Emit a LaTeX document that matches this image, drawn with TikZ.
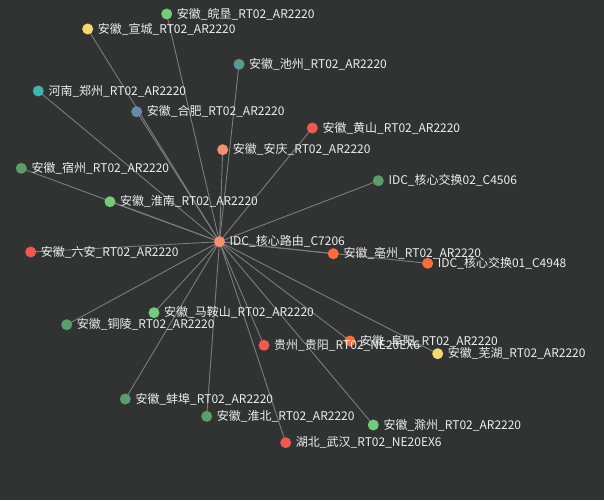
\documentclass[tikz,border=0pt]{standalone}
\usepackage{fontspec}
\setmainfont{Noto Sans CJK SC}
\usetikzlibrary{backgrounds}
\definecolor{bgc}{HTML}{313332}
\definecolor{edgec}{HTML}{7C7D7C}
\definecolor{txtc}{HTML}{EEEEEE}
\definecolor{cLG}{HTML}{72CC7C}
\definecolor{cDG}{HTML}{5C9E6A}
\definecolor{cY}{HTML}{F5D970}
\definecolor{cTe}{HTML}{3FB4B0}
\definecolor{cSB}{HTML}{6C88A8}
\definecolor{cST}{HTML}{5E9696}
\definecolor{cR}{HTML}{EF5A50}
\definecolor{cSa}{HTML}{F4906F}
\definecolor{cO}{HTML}{FF6D3F}
\pgfdeclarelayer{edges}
\pgfsetlayers{background,edges,main}
\tikzset{
  dot/.style={circle,inner sep=0pt,minimum size=11pt,fill=#1},
  lbl/.style={anchor=west,inner sep=0pt,text=txtc,font=\fontsize{12}{12}\selectfont},
  edge/.style={draw=edgec,line width=0.9pt}
}
\begin{document}
\begin{tikzpicture}[x=1pt,y=-1pt]
\begin{pgfonlayer}{background}
\fill[bgc] (0,0) rectangle (604,500);
\end{pgfonlayer}
\useasboundingbox (0,0) rectangle (604,500);
% nodes
\node[dot=cSa] (hub) at (219.5,241.7) {};
\node[dot=cLG] (wk) at (166.7,14) {};
\node[dot=cY] (xc) at (87.7,29) {};
\node[dot=cST] (cz) at (239,64.3) {};
\node[dot=cTe] (zz) at (38.3,91) {};
\node[dot=cSB] (hf) at (136.7,111.7) {};
\node[dot=cR] (hs) at (312.3,128) {};
\node[dot=cSa] (aq) at (222.7,149.7) {};
\node[dot=cDG] (sw2) at (378.3,180.7) {};
\node[dot=cDG] (sz) at (21.3,168.3) {};
\node[dot=cLG] (hn) at (110,201.7) {};
\node[dot=cR] (la) at (30.7,252) {};
\node[dot=cO] (bz) at (333.3,253.7) {};
\node[dot=cO] (sw1) at (427.7,263.3) {};
\node[dot=cLG] (mas) at (154,312.7) {};
\node[dot=cDG] (tl) at (66.7,324.7) {};
\node[dot=cR] (gy) at (264,345.3) {};
\node[dot=cO] (fy) at (350,341) {};
\node[dot=cY] (wh) at (437.7,353.7) {};
\node[dot=cDG] (bb) at (125.3,399) {};
\node[dot=cDG] (hb) at (206.7,416.3) {};
\node[dot=cLG] (chz) at (373.3,425) {};
\node[dot=cR] (whn) at (285.7,442.7) {};
% edges
\begin{pgfonlayer}{edges}
\foreach \n in {wk,xc,cz,zz,hf,hs,aq,sw2,sz,hn,la,bz,sw1,mas,tl,gy,fy,wh,bb,hb,chz,whn}
  \draw[edge] (hub.center) -- (\n.center);
\end{pgfonlayer}
% labels
\node[lbl] (Lhub) at ([xshift=10pt]hub.center) {IDC\_核心路由\_C7206};
\node[lbl] (Lwk) at ([xshift=10pt]wk.center) {安徽\_皖垦\_RT02\_AR2220};
\node[lbl] (Lxc) at ([xshift=10pt]xc.center) {安徽\_宣城\_RT02\_AR2220};
\node[lbl] (Lcz) at ([xshift=10pt]cz.center) {安徽\_池州\_RT02\_AR2220};
\node[lbl] (Lzz) at ([xshift=10pt]zz.center) {河南\_郑州\_RT02\_AR2220};
\node[lbl] (Lhf) at ([xshift=10pt]hf.center) {安徽\_合肥\_RT02\_AR2220};
\node[lbl] (Lhs) at ([xshift=10pt]hs.center) {安徽\_黄山\_RT02\_AR2220};
\node[lbl] (Laq) at ([xshift=10pt]aq.center) {安徽\_安庆\_RT02\_AR2220};
\node[lbl] (Lsw2) at ([xshift=10pt]sw2.center) {IDC\_核心交换02\_C4506};
\node[lbl] (Lsz) at ([xshift=10pt]sz.center) {安徽\_宿州\_RT02\_AR2220};
\node[lbl] (Lhn) at ([xshift=10pt]hn.center) {安徽\_淮南\_RT02\_AR2220};
\node[lbl] (Lla) at ([xshift=10pt]la.center) {安徽\_六安\_RT02\_AR2220};
\node[lbl] (Lbz) at ([xshift=10pt]bz.center) {安徽\_亳州\_RT02\_AR2220};
\node[lbl] (Lsw1) at ([xshift=10pt]sw1.center) {IDC\_核心交换01\_C4948};
\node[lbl] (Lmas) at ([xshift=10pt]mas.center) {安徽\_马鞍山\_RT02\_AR2220};
\node[lbl] (Ltl) at ([xshift=10pt]tl.center) {安徽\_铜陵\_RT02\_AR2220};
\node[lbl] (Lgy) at ([xshift=10pt]gy.center) {贵州\_贵阳\_RT02\_NE20EX6};
\node[lbl] (Lfy) at ([xshift=10pt]fy.center) {安徽\_阜阳\_RT02\_AR2220};
\node[lbl] (Lwh) at ([xshift=10pt]wh.center) {安徽\_芜湖\_RT02\_AR2220};
\node[lbl] (Lbb) at ([xshift=10pt]bb.center) {安徽\_蚌埠\_RT02\_AR2220};
\node[lbl] (Lhb) at ([xshift=10pt]hb.center) {安徽\_淮北\_RT02\_AR2220};
\node[lbl] (Lchz) at ([xshift=10pt]chz.center) {安徽\_滁州\_RT02\_AR2220};
\node[lbl] (Lwhn) at ([xshift=10pt]whn.center) {湖北\_武汉\_RT02\_NE20EX6};
\end{tikzpicture}
\end{document}
